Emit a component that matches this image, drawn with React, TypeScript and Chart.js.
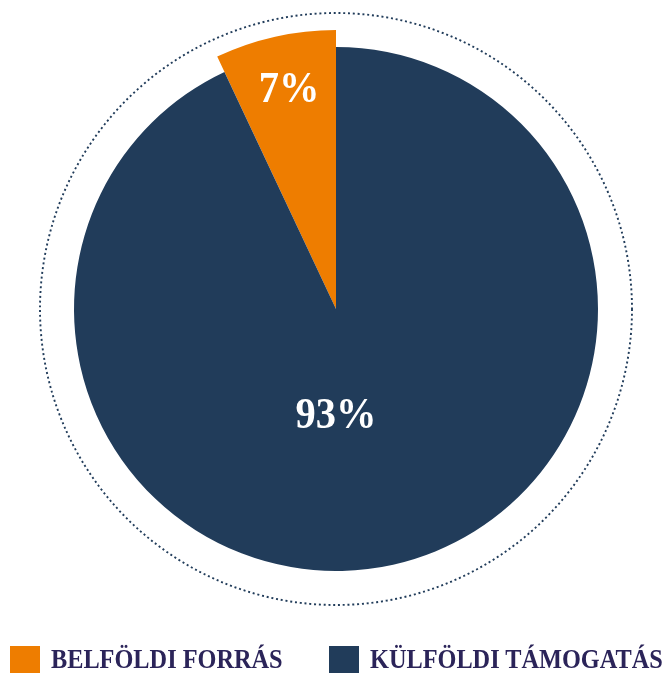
import React, { useEffect, useRef } from "react";
import { Chart, registerables } from "chart.js";

Chart.register(...registerables);

const categories = ["BELFÖLDI FORRÁS", "KÜLFÖLDI TÁMOGATÁS"];
const values = [7, 93];
const valueLabels = ["7%", "93%"];
const colors = ["#EE7D00", "#213C5A"];
const legendTextColor = "#2B2459";

const PIE_RADIUS = 262;
const ORANGE_RADIUS = 279;
const RING_RADIUS = 296;

const piePlugin = {
  id: "pieExtras",
  afterDatasetUpdate(chart: any) {
    const meta = chart.getDatasetMeta(0);
    if (meta && meta.data[0]) {
      meta.data[0].outerRadius = ORANGE_RADIUS;
    }
  },
  beforeDatasetsDraw(chart: any) {
    const meta = chart.getDatasetMeta(0);
    const el = meta.data[0];
    if (!el) return;
    const ctx = chart.ctx;
    ctx.save();
    ctx.beginPath();
    ctx.setLineDash([2, 2.8]);
    ctx.lineWidth = 1.9;
    ctx.strokeStyle = "#213C5A";
    ctx.arc(el.x, el.y, RING_RADIUS, 0, Math.PI * 2);
    ctx.stroke();
    ctx.restore();
  },
  afterDatasetsDraw(chart: any) {
    const meta = chart.getDatasetMeta(0);
    const ctx = chart.ctx;
    meta.data.forEach((el: any, i: number) => {
      let x: number, y: number;
      if (i === 0) {
        const mid = (el.startAngle + el.endAngle) / 2;
        const r = PIE_RADIUS * 0.855;
        x = el.x + Math.cos(mid) * r + 2;
        y = el.y + Math.sin(mid) * r;
      } else {
        x = el.x;
        y = el.y + PIE_RADIUS * 0.41;
      }
      ctx.save();
      ctx.translate(x, y);
      ctx.scale(0.92, 1);
      ctx.fillStyle = "#FFFFFF";
      ctx.font = "bold 44px 'Liberation Serif', serif";
      ctx.textAlign = "center";
      ctx.textBaseline = "middle";
      ctx.fillText(valueLabels[i], 0, 0);
      ctx.restore();
    });
  },
};

export default function App() {
  const canvasRef = useRef<HTMLCanvasElement | null>(null);

  useEffect(() => {
    if (!canvasRef.current) return;
    const chart = new Chart(canvasRef.current, {
      type: "pie",
      data: {
        labels: categories,
        datasets: [
          {
            data: values,
            backgroundColor: colors,
            borderWidth: 0,
          },
        ],
      },
      options: {
        animation: false,
        responsive: false,
        maintainAspectRatio: false,
        radius: PIE_RADIUS,
        rotation: -(values[0] / (values[0] + values[1])) * 360,
        layout: { padding: { left: 9, right: 0, top: 0, bottom: 55 } },
        plugins: {
          legend: { display: false },
          tooltip: { enabled: false },
        },
      } as any,
      plugins: [piePlugin],
    });
    return () => chart.destroy();
  }, []);

  return (
    <div
      style={{
        position: "fixed",
        left: 0,
        top: 0,
        width: 663,
        height: 673,
        overflow: "hidden",
        background: "#FFFFFF",
      }}
    >
      <canvas ref={canvasRef} width={663} height={673} style={{ display: "block" }} />
      {categories.map((c, i) => (
        <div
          key={c}
          style={{
            position: "absolute",
            left: i === 0 ? 10 : 329,
            top: 646,
            height: 28,
            whiteSpace: "nowrap",
          }}
        >
          <span
            style={{
              position: "absolute",
              left: 0,
              top: 0,
              width: 30,
              height: 28,
              background: colors[i],
            }}
          />
          <span
            style={{
              position: "absolute",
              left: 41,
              top: -3,
              fontFamily: "'Liberation Serif', serif",
              fontWeight: "bold",
              fontSize: 27,
              color: legendTextColor,
              lineHeight: "32px",
              transform: "scaleX(0.9)",
              transformOrigin: "left center",
            }}
          >
            {c}
          </span>
        </div>
      ))}
    </div>
  );
}
